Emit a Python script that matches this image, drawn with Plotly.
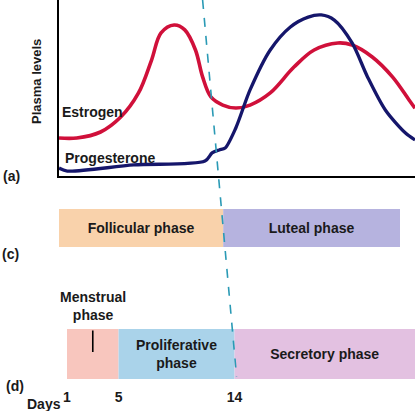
import plotly.graph_objects as go

# plasma levels (relative units)
estrogen_day = [1.0, 2.5, 4.5, 6.2, 7.7, 8.8, 9.6, 10.7, 11.6, 12.5, 13.1, 13.8, 14.8, 15.9,
                17.1, 18.8, 20.8, 22.5, 24.5, 25.7, 27.4, 29.1, 30.5, 31.0]
estrogen_lvl = [21.6, 21.6, 25.0, 33.5, 47.2, 65.9, 81.3, 85.8, 83.0, 71.6, 56.3, 44.9, 40.3, 38.6,
                40.3, 47.2, 61.9, 71.6, 75.6, 74.4, 67.6, 56.3, 43.2, 38.5]

progesterone_day = [1.0, 1.7, 7.3, 13.3, 13.9, 14.5, 15.0, 15.9, 17.1, 18.8, 20.5, 22.0, 23.1,
                    24.2, 25.7, 27.0, 28.5, 30.2, 31.0]
progesterone_lvl = [4.5, 2.8, 6.3, 8.5, 13.1, 14.8, 15.9, 27.3, 48.9, 71.6, 84.7, 90.3, 91.5,
                    88.6, 75.6, 56.3, 37.5, 24.4, 20.5]

# ovarian cycle (c) and uterine cycle (d), in days
ovarian_phases = ["Follicular phase", "Luteal phase"]
ovarian_start = [1, 14]
ovarian_end = [14, 28]
ovarian_colors = ["#f9d2ab", "#b6b3df"]

uterine_phases = ["", "Proliferative<br>phase", "Secretory phase"]
uterine_start = [1, 5, 14]
uterine_end = [5, 14, 28]
uterine_colors = ["#f8c6be", "#aad3ea", "#e3c1e1"]

day_ticks = [1, 5, 14, 28]
day_labels = ["1", "5", "14", "28"]

W, H = 415, 411
FONT = "Liberation Sans, Arial, sans-serif"
TXT = "#1a1a1a"


def px(x):
    return x / W


def py(y):
    return 1 - y / H


dom_a, rng_a = [px(59), 1], [1, 31]
dom_c, rng_c = [px(59), px(400)], [1, 28]
dom_d, rng_d = [px(67), 1], [1, 28]
ydom_a = [py(176), 1]
ydom_c = [py(247), py(209)]
ydom_d = [py(379), py(329)]


def paper_x(day, dom, rng):
    return dom[0] + (day - rng[0]) / (rng[1] - rng[0]) * (dom[1] - dom[0])


fig = go.Figure()

fig.add_trace(go.Scatter(x=estrogen_day, y=estrogen_lvl, mode='lines', name='Estrogen',
                         line=dict(color="#d0103a", width=3.6, shape='spline', smoothing=1),
                         xaxis='x', yaxis='y'))
fig.add_trace(go.Scatter(x=progesterone_day, y=progesterone_lvl, mode='lines', name='Progesterone',
                         line=dict(color="#15166b", width=3.3, shape='spline', smoothing=0.8),
                         xaxis='x', yaxis='y'))

bar_font = dict(family=FONT, size=14, color=TXT, weight="bold")
for name, s, e, c in zip(ovarian_phases, ovarian_start, ovarian_end, ovarian_colors):
    fig.add_trace(go.Bar(y=[0], x=[e - s], base=[s], orientation='h', width=1,
                         marker=dict(color=c, line=dict(width=0)),
                         text=[name], textposition='inside', insidetextanchor='middle',
                         constraintext='none', textfont=bar_font,
                         xaxis='x2', yaxis='y2'))
for name, s, e, c in zip(uterine_phases, uterine_start, uterine_end, uterine_colors):
    fig.add_trace(go.Bar(y=[0], x=[e - s], base=[s], orientation='h', width=1,
                         marker=dict(color=c, line=dict(width=0)),
                         text=[name], textposition='inside', insidetextanchor='middle',
                         constraintext='none', textfont=bar_font,
                         xaxis='x3', yaxis='y3'))

hidden = dict(visible=False, fixedrange=True)
fig.update_layout(
    width=W, height=H,
    margin=dict(l=0, r=0, t=0, b=0, autoexpand=False),
    paper_bgcolor='white', plot_bgcolor='white',
    showlegend=False, barmode='overlay',
    font=dict(family=FONT, size=14, color=TXT),
    xaxis=dict(domain=dom_a, range=rng_a, showline=True, linecolor='black', linewidth=2,
               showgrid=False, zeroline=False, showticklabels=False, ticks='', anchor='y'),
    yaxis=dict(domain=ydom_a, range=[0, 100], showline=True, linecolor='black', linewidth=2,
               showgrid=False, zeroline=False, showticklabels=False, ticks='', anchor='x'),
    xaxis2=dict(domain=dom_c, range=rng_c, anchor='y2', **hidden),
    yaxis2=dict(domain=ydom_c, range=[-0.5, 0.5], anchor='x2', **hidden),
    xaxis3=dict(domain=dom_d, range=rng_d, anchor='y3', showline=False, showgrid=False,
                zeroline=False, ticks='', tickmode='array', tickvals=day_ticks, ticktext=day_labels,
                tickfont=dict(family=FONT, size=14, color=TXT, weight="bold"),
                ticklabelstandoff=8),
    yaxis3=dict(domain=ydom_d, range=[-0.5, 0.5], anchor='x3', **hidden),
)

# dashed day-14 line through the ovulation boundary in (c) and (d)
xc, yc = paper_x(14, dom_c, rng_c), (ydom_c[0] + ydom_c[1]) / 2
xd, yd = paper_x(14, dom_d, rng_d), (ydom_d[0] + ydom_d[1]) / 2
slope = (xd - xc) / (yd - yc)
y_top, y_bot = 1.0, ydom_d[0] + 0.005
fig.add_shape(type='line', xref='paper', yref='paper',
              x0=xc + (y_top - yc) * slope, y0=y_top,
              x1=xc + (y_bot - yc) * slope, y1=y_bot,
              line=dict(color="#2a9ab5", width=1.6, dash='dash'))

bold = dict(family=FONT, size=14, color=TXT, weight="bold")


def label(text, x, y, xanchor='center', **kw):
    fig.add_annotation(text=text, x=px(x), y=py(y), xref='paper', yref='paper',
                       xanchor=xanchor, yanchor='middle',
                       showarrow=False, font=kw.pop('font', bold), **kw)


label("Estrogen", 92, 112)
label("Progesterone", 110, 158)
label("Plasma levels", 37, 82, textangle=-90, font=dict(family=FONT, size=13, color=TXT, weight="bold"))
label("(a)", 22, 176, xanchor='right')
label("(c)", 21, 254, xanchor='right')
label("(d)", 15, 386)
label("Days", 44, 404)

# menstrual phase callout
fig.add_annotation(text="Menstrual<br>phase", x=3, y=0.04, xref='x3', yref='y3',
                   showarrow=True, arrowhead=0, arrowwidth=1.6, arrowcolor='black',
                   ax=0, ay=-46, startstandoff=6, font=bold)

# page has a default 8px body margin; drop it so the figure fills the window
fig.write_html("out.html", config={'displayModeBar': False},
               post_script="document.body.style.margin='0px';")
